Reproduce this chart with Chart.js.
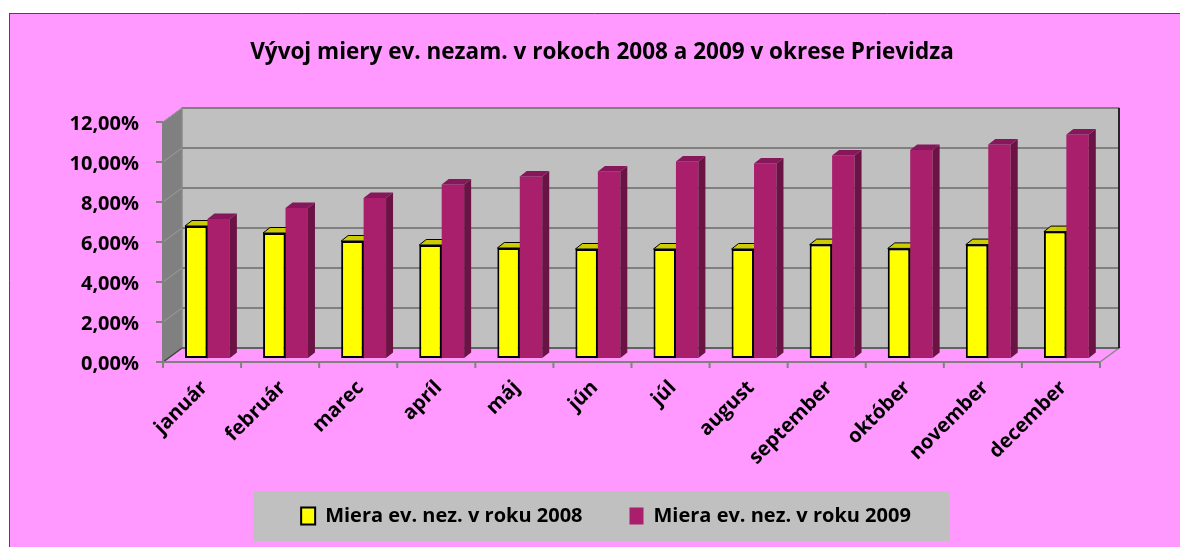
<!DOCTYPE html>
<html><head><meta charset="utf-8">
<script src="https://cdn.jsdelivr.net/npm/chart.js@4.4.1/dist/chart.umd.min.js"></script>
<style>html,body{margin:0;padding:0;background:#fff;overflow:hidden}canvas{display:block}</style>
</head><body>
<canvas id="c" width="1180" height="547"></canvas>
<script>
// ---- data ----
const categories = ['január','február','marec','apríl','máj','jún','júl','august','september','október','november','december'];
const rate2008 = [6.60, 6.25, 5.85, 5.65, 5.50, 5.45, 5.45, 5.45, 5.67, 5.48, 5.67, 6.32];
const rate2009 = [6.95, 7.50, 8.00, 8.67, 9.07, 9.33, 9.82, 9.73, 10.12, 10.40, 10.68, 11.17];
const yTicks = [0, 2, 4, 6, 8, 10, 12];
const seriesNames = ['Miera ev. nez. v roku 2008', 'Miera ev. nez. v roku 2009'];
const titleText = 'Vývoj miery ev. nezam. v rokoch 2008 a 2009 v okrese Prievidza';

// ---- 3D look ----
const FRONT = {dx: -5.4, dy: 4};
const BACK = {dx: 13.6, dy: -10};
const BAR3D = {dx: 7, dy: -5.5};
const FONT = '"Open Sans"';

function poly(c, pts, fill, stroke, lw) {
  c.beginPath();
  pts.forEach((p, i) => i ? c.lineTo(p[0], p[1]) : c.moveTo(p[0], p[1]));
  c.closePath();
  if (fill) { c.fillStyle = fill; c.fill(); }
  if (stroke) { c.strokeStyle = stroke; c.lineWidth = lw || 1; c.stroke(); }
}
function line(c, x1, y1, x2, y2, col, lw) {
  c.beginPath(); c.moveTo(x1, y1); c.lineTo(x2, y2);
  c.strokeStyle = col; c.lineWidth = lw; c.stroke();
}
function barFaces(chart, dsIndex, top, side, stroke) {
  const c = chart.ctx;
  const meta = chart.getDatasetMeta(dsIndex);
  meta.data.forEach(el => {
    const p = el.getProps(['x', 'y', 'base', 'width'], true);
    const l = p.x - p.width / 2, r = p.x + p.width / 2;
    poly(c, [[r, p.y], [r + BAR3D.dx, p.y + BAR3D.dy], [r + BAR3D.dx, p.base + BAR3D.dy], [r, p.base]], side, stroke, 1);
    poly(c, [[l, p.y], [r, p.y], [r + BAR3D.dx, p.y + BAR3D.dy], [l + BAR3D.dx, p.y + BAR3D.dy]], top, stroke, 1);
  });
}

const frame3d = {
  id: 'frame3d',
  afterLayout(chart) {
    // lift the legend row into its grey panel (the x labels need the space above)
    const lg = chart.legend;
    if (lg) { lg.top -= 19; lg.bottom -= 19; lg.left += 4; lg.right += 4; }
  },
  beforeDraw(chart) {
    const c = chart.ctx;
    c.save();
    c.fillStyle = '#ffffff'; c.fillRect(0, 0, chart.width, chart.height);
    c.fillStyle = '#FF99FF'; c.fillRect(9, 13, chart.width, chart.height);
    line(c, 9.5, chart.height, 9.5, 13.5, '#4a4a4a', 1);
    line(c, 9, 13.5, chart.width, 13.5, '#4a4a4a', 1);
    const hb = chart.legend && chart.legend.legendHitBoxes;
    if (hb && hb.length) {
      const cy = hb[0].top + hb[0].height / 2;
      const last = hb[hb.length - 1];
      const l = hb[0].left - 48, r = last.left + last.width + 39;
      c.fillStyle = '#C0C0C0'; c.fillRect(l, cy - 25, r - l, 50);
    }
    c.restore();
  },
  beforeDatasetsDraw(chart) {
    const c = chart.ctx, a = chart.chartArea, y = chart.scales.y;
    const y0 = y.getPixelForValue(0), yT = y.getPixelForValue(y.max);
    const L = a.left, R = a.right;
    c.save();
    // side wall
    poly(c, [[L + FRONT.dx, yT + FRONT.dy], [L + BACK.dx, yT + BACK.dy], [L + BACK.dx, y0 + BACK.dy], [L + FRONT.dx, y0 + FRONT.dy]], '#808080', '#707070', 1);
    // back wall
    poly(c, [[L + BACK.dx, yT + BACK.dy], [R + BACK.dx, yT + BACK.dy], [R + BACK.dx, y0 + BACK.dy], [L + BACK.dx, y0 + BACK.dy]], '#C0C0C0', '#8a8a8a', 1.5);
    // gridlines
    yTicks.forEach(v => {
      const py = y.getPixelForValue(v);
      line(c, L + FRONT.dx, py + FRONT.dy, L + BACK.dx, py + BACK.dy, '#9c9c9c', 1);
      line(c, L + BACK.dx, py + BACK.dy, R + BACK.dx, py + BACK.dy, '#808080', 2);
    });
    // floor
    poly(c, [[L + FRONT.dx, y0 + FRONT.dy], [R + FRONT.dx, y0 + FRONT.dy], [R + BACK.dx, y0 + BACK.dy], [L + BACK.dx, y0 + BACK.dy]], null, '#8a8a8a', 1.5);
    line(c, L + BACK.dx, y0 + BACK.dy, R + BACK.dx, y0 + BACK.dy, '#555555', 1.5);
    line(c, R + BACK.dx, yT + BACK.dy, R + BACK.dx, y0 + BACK.dy, '#000000', 1.5);
    line(c, L + FRONT.dx, y0 + FRONT.dy, L + BACK.dx, y0 + BACK.dy, '#444444', 1.5);
    // front value axis
    line(c, L + FRONT.dx, yT + FRONT.dy, L + FRONT.dx, y0 + FRONT.dy, '#808080', 2);
    yTicks.forEach(v => {
      const py = y.getPixelForValue(v) + FRONT.dy;
      line(c, L + FRONT.dx - 7, py, L + FRONT.dx, py, '#808080', 2);
    });
    // front category axis
    line(c, L + FRONT.dx, y0 + FRONT.dy, R + FRONT.dx, y0 + FRONT.dy, '#808080', 2);
    const cw = (R - L) / categories.length;
    for (let i = 0; i <= categories.length; i++) {
      const px = L + i * cw + FRONT.dx;
      line(c, px, y0 + FRONT.dy, px, y0 + FRONT.dy + 6, '#808080', 2);
    }
    // yellow bar tops / sides (behind purple bars)
    barFaces(chart, 0, '#CCCC00', '#B0B000', '#000000');
    c.restore();
  },
  afterDatasetsDraw(chart) {
    const c = chart.ctx;
    c.save();
    barFaces(chart, 1, '#86175A', '#6C1346', null);
    c.restore();
  }
};

const pct = v => v.toFixed(2).replace('.', ',') + '%';

new Chart(document.getElementById('c'), {
  type: 'bar',
  data: {
    labels: categories,
    datasets: [
      {label: seriesNames[0], data: rate2008, backgroundColor: '#FFFF00', borderColor: '#000000', borderWidth: 2, borderSkipped: false},
      {label: seriesNames[1], data: rate2009, backgroundColor: '#A91F6C', borderColor: '#A91F6C', borderWidth: 0, borderSkipped: false}
    ]
  },
  options: {
    responsive: false,
    animation: false,
    devicePixelRatio: 1,
    events: [],
    categoryPercentage: 0.575,
    barPercentage: 1,
    layout: {padding: {left: 24, right: 0, top: 0, bottom: 0}},
    scales: {
      x: {
        grid: {display: false}, border: {display: false},
        ticks: {minRotation: 45, maxRotation: 45, autoSkip: false, color: '#000', padding: 10, labelOffset: -3,
          font: {family: FONT, weight: 'bold', size: 20}},
        afterFit(s) { s.height = 120; }
      },
      y: {
        min: 0, max: 12,
        grid: {display: false}, border: {display: false},
        afterBuildTicks(s) { s.ticks = yTicks.map(v => ({value: v})); },
        ticks: {color: '#000', padding: 21.4, labelOffset: 6, callback: v => pct(v),
          font: {family: FONT, weight: 'bold', size: 20}},
        afterFit(s) { s.width = 144.4; }
      },
      yRight: {
        position: 'right', min: 0, max: 1,
        grid: {display: false}, border: {display: false}, ticks: {display: false},
        afterFit(s) { s.width = 74.6; }
      }
    },
    plugins: {
      tooltip: {enabled: false},
      title: {display: true, text: titleText, color: '#000',
        font: {family: FONT, weight: 'bold', size: 22.5, lineHeight: 1.2},
        padding: {top: 39.5, bottom: 51.5}},
      legend: {position: 'bottom', maxHeight: 69,
        labels: {boxWidth: 14, boxHeight: 17, padding: 47, color: '#000',
          font: {family: FONT, weight: 'bold', size: 20}}}
    }
  },
  plugins: [frame3d]
});
</script>
</body></html>
